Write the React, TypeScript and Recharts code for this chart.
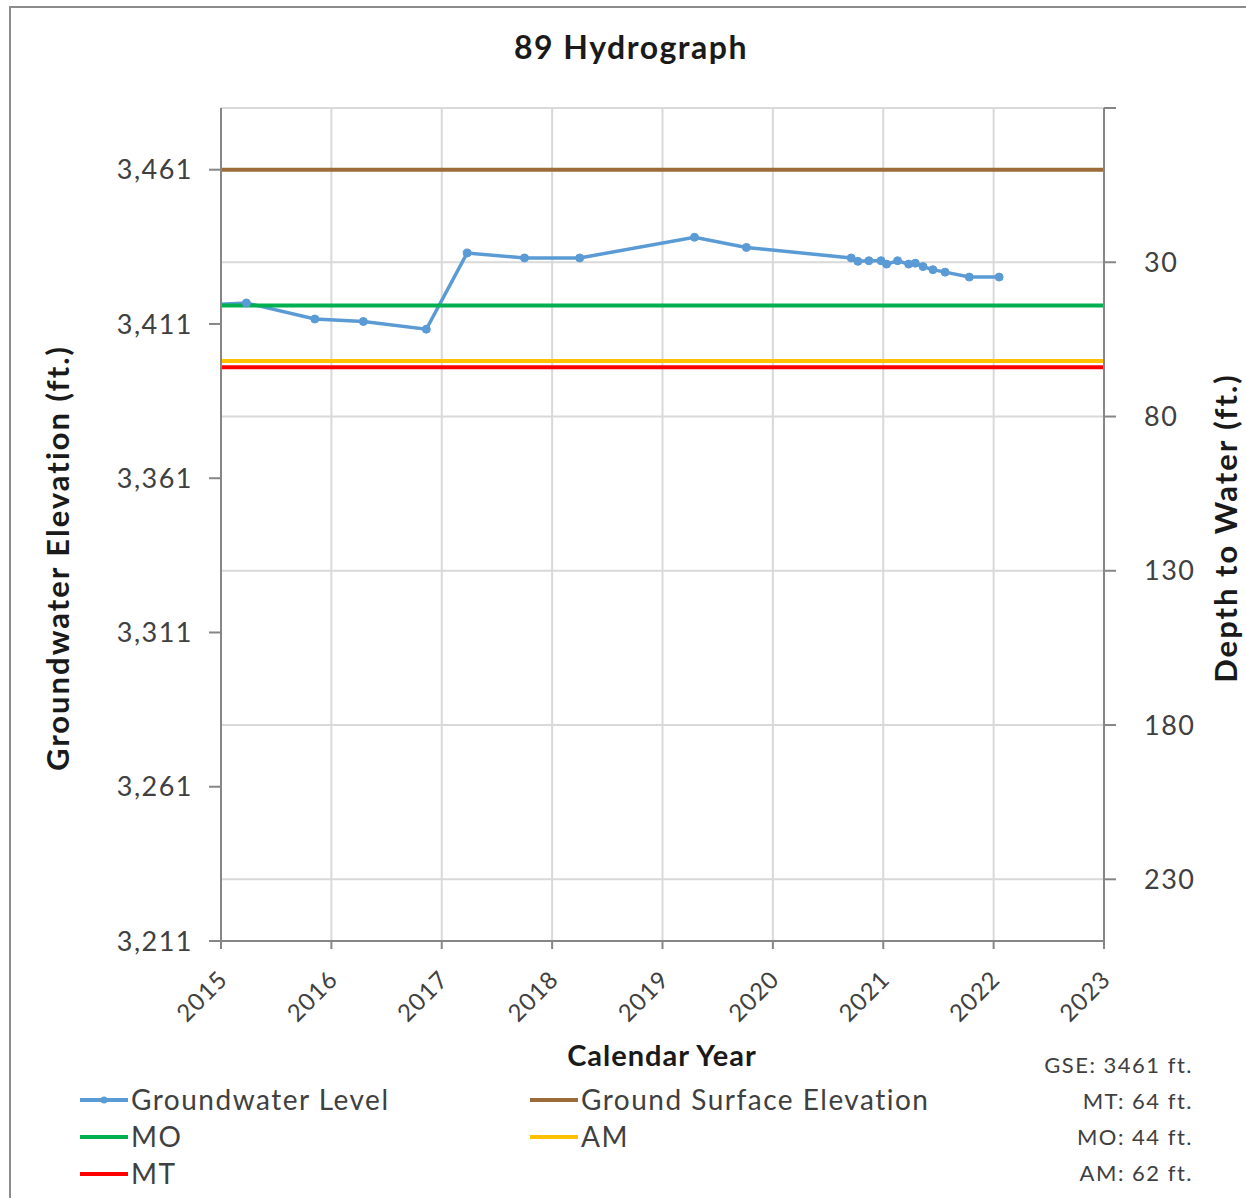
import React from "react";
import {
  LineChart,
  Line,
  XAxis,
  YAxis,
  CartesianGrid,
  ReferenceLine,
} from "recharts";

// sample dates (decimal years) and groundwater elevations (ft.)
const YEARS = [
  2014.75, 2015.23, 2015.85, 2016.29, 2016.86, 2017.23, 2017.75, 2018.25,
  2019.29, 2019.76, 2020.71, 2020.77, 2020.87, 2020.98, 2021.03, 2021.13,
  2021.23, 2021.29, 2021.36, 2021.45, 2021.56, 2021.78, 2022.05,
];
const ELEVATIONS = [
  3417.0, 3417.8, 3412.6, 3411.8, 3409.3, 3434.0, 3432.4, 3432.4,
  3439.1, 3435.8, 3432.4, 3431.3, 3431.5, 3431.5, 3430.4, 3431.5,
  3430.4, 3430.7, 3429.6, 3428.6, 3427.8, 3426.2, 3426.2,
];

const X_TICKS = [2015, 2016, 2017, 2018, 2019, 2020, 2021, 2022, 2023];
const ELEV_TICKS = [3211, 3261, 3311, 3361, 3411, 3461];
const DEPTH_TICKS = [-20, 30, 80, 130, 180, 230];

const GSE = 3461;
const MT_DEPTH = 64;
const MO_DEPTH = 44;
const AM_DEPTH = 62;

const FONT = "Lato, 'Open Sans', sans-serif";
const AXIS_GRAY = "#868686";
const TEXT_GRAY = "#404040";

const COLORS = {
  level: "#5b9bd5",
  gse: "#9c6b3a",
  mo: "#00b050",
  am: "#ffc000",
  mt: "#ff0000",
};

// depth is the same reading on the secondary axis (keeps that axis bound to a series)
const data = YEARS.map((year, i) => ({
  year,
  elev: ELEVATIONS[i],
  depth: GSE - ELEVATIONS[i],
}));

function YearTick({ x, y, payload }: { x?: number; y?: number; payload?: { value: number } }) {
  return (
    <g transform={`translate(${x},${y})`}>
      <text
        x={8}
        y={30}
        textAnchor="end"
        transform="rotate(-45, 8, 30)"
        fontFamily={FONT}
        fontSize={24}
        letterSpacing={1}
        fill={TEXT_GRAY}
      >
        {payload?.value}
      </text>
    </g>
  );
}

const legendItems = [
  { label: "Groundwater Level", color: COLORS.level, dot: true, x: 80, row: 0 },
  { label: "Ground Surface Elevation", color: COLORS.gse, dot: false, x: 530, row: 0 },
  { label: "MO", color: COLORS.mo, dot: false, x: 80, row: 1 },
  { label: "AM", color: COLORS.am, dot: false, x: 530, row: 1 },
  { label: "MT", color: COLORS.mt, dot: false, x: 80, row: 2 },
];

const notes = [
  `GSE: ${GSE} ft.`,
  `MT: ${MT_DEPTH} ft.`,
  `MO: ${MO_DEPTH} ft.`,
  `AM: ${AM_DEPTH} ft.`,
];

export default function App() {
  return (
    <div
      style={{
        position: "absolute",
        left: 0,
        top: 0,
        width: 1246,
        height: 1198,
        overflow: "hidden",
        background: "#fff",
      }}
    >
      <div
        style={{
          position: "absolute",
          left: 9,
          top: 6,
          width: 1260,
          height: 1220,
          border: "2px solid #8c8c8c",
        }}
      />
      <div style={{ position: "absolute", left: 0, top: 0 }}>
        <LineChart
          width={1246}
          height={1198}
          data={data}
          margin={{ top: 108, right: 0, bottom: 0, left: 0 }}
        >
          <CartesianGrid
            yAxisId="depth"
            stroke="#d9d9d9"
            strokeWidth={2}
            horizontalValues={DEPTH_TICKS}
            verticalValues={X_TICKS}
          />
          <XAxis
            dataKey="year"
            type="number"
            domain={[2015, 2023]}
            ticks={X_TICKS}
            allowDataOverflow
            interval={0}
            height={257}
            stroke={AXIS_GRAY}
            strokeWidth={2}
            tickSize={8}
            tick={<YearTick />}
          />
          <YAxis
            yAxisId="elev"
            orientation="left"
            type="number"
            domain={[3211, 3481]}
            ticks={ELEV_TICKS}
            interval={0}
            width={221}
            stroke={AXIS_GRAY}
            strokeWidth={2}
            tickSize={12}
            tickMargin={16}
            tickFormatter={(v: number) => v.toLocaleString("en-US")}
            tick={{ fill: TEXT_GRAY, fontSize: 27, fontFamily: FONT, letterSpacing: 1.5 }}
          />
          <YAxis
            yAxisId="depth"
            orientation="right"
            type="number"
            domain={[-20, 250]}
            allowDataOverflow
            reversed
            ticks={DEPTH_TICKS}
            interval={0}
            width={142}
            stroke={AXIS_GRAY}
            strokeWidth={2}
            tickSize={12}
            tickMargin={28}
            tickFormatter={(v: number) => (v < 0 ? "" : String(v))}
            tick={{ fill: TEXT_GRAY, fontSize: 27, fontFamily: FONT, letterSpacing: 1.5 }}
          />
          <Line
            yAxisId="depth"
            dataKey="depth"
            stroke="none"
            dot={false}
            activeDot={false}
            isAnimationActive={false}
          />
          <Line
            yAxisId="elev"
            dataKey="elev"
            stroke={COLORS.level}
            strokeWidth={3.5}
            dot={{ r: 4, fill: COLORS.level, stroke: COLORS.level, strokeWidth: 1 }}
            isAnimationActive={false}
          />
          <ReferenceLine yAxisId="elev" y={GSE} stroke={COLORS.gse} strokeWidth={4} />
          <ReferenceLine yAxisId="depth" y={MO_DEPTH} stroke={COLORS.mo} strokeWidth={4} />
          <ReferenceLine yAxisId="depth" y={AM_DEPTH} stroke={COLORS.am} strokeWidth={4} />
          <ReferenceLine yAxisId="depth" y={MT_DEPTH} stroke={COLORS.mt} strokeWidth={4} />
        </LineChart>
      </div>
      <svg
        width={1246}
        height={1198}
        style={{ position: "absolute", left: 0, top: 0, pointerEvents: "none" }}
        fontFamily={FONT}
      >
        <text x={631} y={59} textAnchor="middle" fontSize={32} fontWeight={700} letterSpacing={1.5} fill="#1a1a1a">
          89 Hydrograph
        </text>
        <text
          x={0}
          y={0}
          transform="translate(69,558) rotate(-90)"
          textAnchor="middle"
          fontSize={31}
          fontWeight={700}
          letterSpacing={2}
          fill="#1a1a1a"
        >
          Groundwater Elevation (ft.)
        </text>
        <text
          x={0}
          y={0}
          transform="translate(1237,528) rotate(-90)"
          textAnchor="middle"
          fontSize={31}
          fontWeight={700}
          letterSpacing={2}
          fill="#1a1a1a"
        >
          Depth to Water (ft.)
        </text>
        <text x={662} y={1066} textAnchor="middle" fontSize={29} fontWeight={700} letterSpacing={1} fill="#1a1a1a">
          Calendar Year
        </text>
        {legendItems.map((item) => {
          const cy = 1100 + item.row * 37;
          return (
            <g key={item.label}>
              <line x1={item.x} x2={item.x + 48} y1={cy} y2={cy} stroke={item.color} strokeWidth={4} />
              {item.dot && <circle cx={item.x + 24} cy={cy} r={3.5} fill={item.color} />}
              <text x={item.x + 51} y={cy + 10} fontSize={28} letterSpacing={1.5} fill="#404040">
                {item.label}
              </text>
            </g>
          );
        })}
        {notes.map((n, i) => (
          <text key={n} x={1193} y={1073 + i * 36} textAnchor="end" fontSize={22} letterSpacing={1.5} fill="#404040">
            {n}
          </text>
        ))}
      </svg>
    </div>
  );
}
